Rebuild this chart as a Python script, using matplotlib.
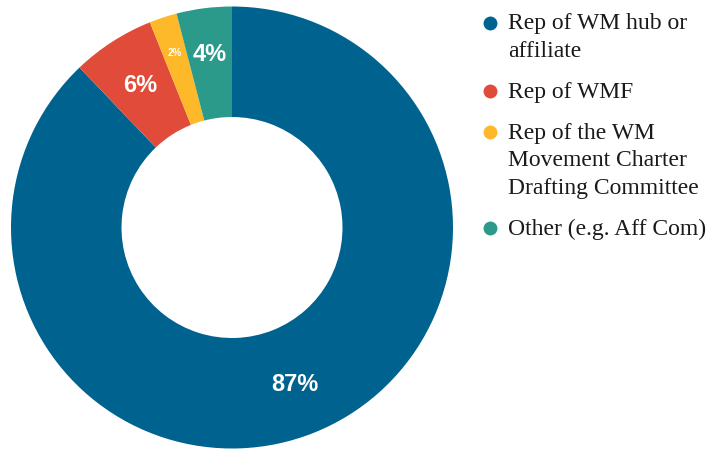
import matplotlib
matplotlib.use('Agg')
import matplotlib.pyplot as plt
import numpy as np

# share of respondents by role
categories = ['Rep of WM hub or\naffiliate',
              'Rep of WMF',
              'Rep of the WM\nMovement Charter\nDrafting Committee',
              'Other (e.g. Aff Com)']
shares = [87, 6, 2, 4]
colors = ['#00628F', '#E14B39', '#FDB92A', '#2B9A8A']

# label style per wedge (the thin slice gets a small label pushed outward)
label_sizes = [17, 17, 7, 17]
label_dist = [0.765, 0.765, 0.83, 0.79]

W, H = 712, 450
fig = plt.figure(figsize=(W / 100, H / 100), dpi=100)

cx, cy, r = 232, 227.5, 221
ax = fig.add_axes([(cx - r) / W, (H - cy - r) / H, 2 * r / W, 2 * r / H])
wedges, _ = ax.pie(shares, colors=colors, startangle=90, counterclock=False,
                   radius=1, wedgeprops=dict(width=0.5, linewidth=0),
                   frame=False)
ax.set_xlim(-1, 1)
ax.set_ylim(-1, 1)
ax.axis('off')

for w, v, fs, d in zip(wedges, shares, label_sizes, label_dist):
    mid = np.deg2rad((w.theta1 + w.theta2) / 2)
    ax.text(d * np.cos(mid), d * np.sin(mid), f'{v}%', color='white',
            fontsize=fs, fontweight='bold', family='Liberation Sans',
            ha='center', va='center')

# legend drawn in pixel coordinates
lg = fig.add_axes([0, 0, 1, 1])
lg.set_xlim(0, W)
lg.set_ylim(H, 0)
lg.axis('off')

line_step = 27.5
entry_gap = 41
y = 29.5
for name, c in zip(categories, colors):
    lines = name.split('\n')
    lg.plot(490, y - 7, 'o', ms=10, color=c, mec='none')
    for i, ln in enumerate(lines):
        lg.text(508, y + i * line_step, ln, fontsize=17, family='Liberation Serif',
                color='#1a1a1a', ha='left', va='baseline')
    y += (len(lines) - 1) * line_step + entry_gap

fig.savefig('out.png', dpi=100)
